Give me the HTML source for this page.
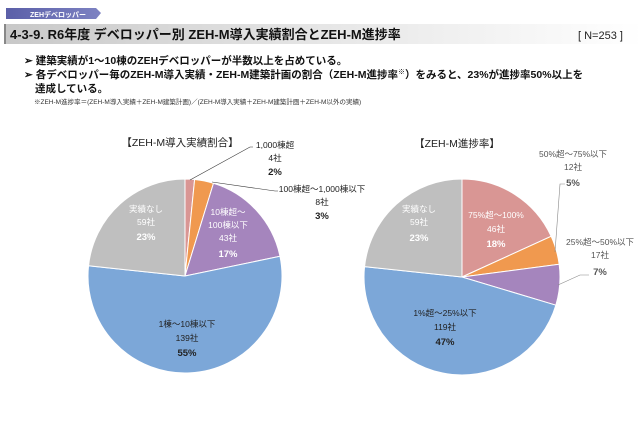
<!DOCTYPE html>
<html><head><meta charset="utf-8"><style>
body{margin:0;background:#fff;}
svg{display:block;font-family:"Liberation Sans","Noto Sans CJK JP",sans-serif;}
</style></head><body>
<svg width="643" height="426" viewBox="0 0 643 426">
<defs>
<linearGradient id="tg" x1="0" x2="1"><stop offset="0" stop-color="#c8c8c8"/><stop offset="0.5" stop-color="#e6e6e6"/><stop offset="1" stop-color="#ffffff"/></linearGradient>
<linearGradient id="tab" x1="0" x2="1"><stop offset="0" stop-color="#5b5fa8"/><stop offset="1" stop-color="#7d82c2"/></linearGradient>
</defs>
<polygon points="6,8 96,8 101,13 96,19 6,19" fill="url(#tab)"/>
<text x="30" y="17" font-size="7" fill="#fff" font-weight="bold">ZEHデベロッパー</text>
<rect x="4" y="24" width="639" height="20" fill="url(#tg)"/>
<rect x="4" y="24" width="2" height="20" fill="#888"/>
<text x="10" y="39" font-size="13" font-weight="bold" fill="#111">4-3-9. R6年度 デベロッパー別 ZEH-M導入実績割合とZEH-M進捗率</text>
<text x="578" y="39" font-size="11" fill="#222">[ N=253 ]</text>
<text x="24" y="64" font-size="10.5" font-weight="bold" fill="#111">➢ 建築実績が1～10棟のZEHデベロッパーが半数以上を占めている。</text>
<text x="24" y="78" font-size="10.5" font-weight="bold" fill="#111">➢ 各デベロッパー毎のZEH-M導入実績・ZEH-M建築計画の割合（ZEH-M進捗率<tspan font-size="7" dy="-4">※</tspan><tspan dy="4">）をみると、23%が進捗率50%以上を</tspan></text>
<text x="35" y="92" font-size="10.5" font-weight="bold" fill="#111">達成している。</text>
<text x="34" y="104" font-size="6.5" fill="#333">※ZEH-M進捗率＝(ZEH-M導入実績＋ZEH-M建築計画)／(ZEH-M導入実績＋ZEH-M建築計画＋ZEH-M以外の実績)</text>

<g stroke="#fff" stroke-width="1">
<path d="M185,276 L185,179 A97,97 0 0 1 194.62,179.48 Z" fill="#d99694"/>
<path d="M185,276 L194.62,179.48 A97,97 0 0 1 213.48,183.28 Z" fill="#f0994f"/>
<path d="M185,276 L213.48,183.28 A97,97 0 0 1 279.98,256.30 Z" fill="#a585bd"/>
<path d="M185,276 L279.98,256.30 A97,97 0 1 1 88.54,265.78 Z" fill="#7ca7d8"/>
<path d="M185,276 L88.54,265.78 A97,97 0 0 1 185,179 Z" fill="#bfbfbf"/>
<path d="M462,277 L462,179 A98,98 0 0 1 551.14,236.29 Z" fill="#d99694"/>
<path d="M462,277 L551.14,236.29 A98,98 0 0 1 559.17,264.26 Z" fill="#f0994f"/>
<path d="M462,277 L559.17,264.26 A98,98 0 0 1 555.86,305.17 Z" fill="#a585bd"/>
<path d="M462,277 L555.86,305.17 A98,98 0 0 1 364.55,266.67 Z" fill="#7ca7d8"/>
<path d="M462,277 L364.55,266.67 A98,98 0 0 1 462,179 Z" fill="#bfbfbf"/>
</g>
<g stroke="#333" stroke-width="0.6" fill="none">
<polyline points="190,180 250,147 253,147"/>
<polyline points="212,182 275,191 278,191"/>
</g>
<g stroke="#888" stroke-width="0.6" fill="none">
<polyline points="555,252 560,184 565,184"/>
<polyline points="558,285 580,275 589,275"/>
</g>
<g font-size="8.5" text-anchor="middle">
<text x="180" y="146" font-size="10.5" fill="#222">【ZEH-M導入実績割合】</text>
<text x="275" y="148" fill="#222">1,000棟超</text>
<text x="275" y="161" fill="#222">4社</text>
<text x="275" y="175" font-weight="bold" font-size="9.5" fill="#222">2%</text>
<text x="322" y="192" fill="#222">100棟超～1,000棟以下</text>
<text x="322" y="205" fill="#222">8社</text>
<text x="322" y="219" font-weight="bold" font-size="9.5" fill="#222">3%</text>
<text x="146" y="212" fill="#fff">実績なし</text>
<text x="146" y="225" fill="#fff">59社</text>
<text x="146" y="240" font-weight="bold" font-size="9.5" fill="#fff">23%</text>
<text x="228" y="215" fill="#fff">10棟超～</text>
<text x="228" y="228" fill="#fff">100棟以下</text>
<text x="228" y="241" fill="#fff">43社</text>
<text x="228" y="257" font-weight="bold" font-size="9.5" fill="#fff">17%</text>
<text x="187" y="327" fill="#222">1棟～10棟以下</text>
<text x="187" y="341" fill="#222">139社</text>
<text x="187" y="356" font-weight="bold" font-size="9.5" fill="#222">55%</text>
<text x="457" y="147" font-size="10.5" fill="#222">【ZEH-M進捗率】</text>
<text x="573" y="157" fill="#555">50%超～75%以下</text>
<text x="573" y="170" fill="#555">12社</text>
<text x="573" y="186" font-weight="bold" font-size="9.5" fill="#555">5%</text>
<text x="600" y="245" fill="#555">25%超～50%以下</text>
<text x="600" y="258" fill="#555">17社</text>
<text x="600" y="275" font-weight="bold" font-size="9.5" fill="#555">7%</text>
<text x="419" y="212" fill="#fff">実績なし</text>
<text x="419" y="225" fill="#fff">59社</text>
<text x="419" y="241" font-weight="bold" font-size="9.5" fill="#fff">23%</text>
<text x="496" y="218" fill="#fff">75%超～100%</text>
<text x="496" y="232" fill="#fff">46社</text>
<text x="496" y="247" font-weight="bold" font-size="9.5" fill="#fff">18%</text>
<text x="445" y="316" fill="#222">1%超～25%以下</text>
<text x="445" y="330" fill="#222">119社</text>
<text x="445" y="345" font-weight="bold" font-size="9.5" fill="#222">47%</text>
</g>
</svg>
</body></html>
